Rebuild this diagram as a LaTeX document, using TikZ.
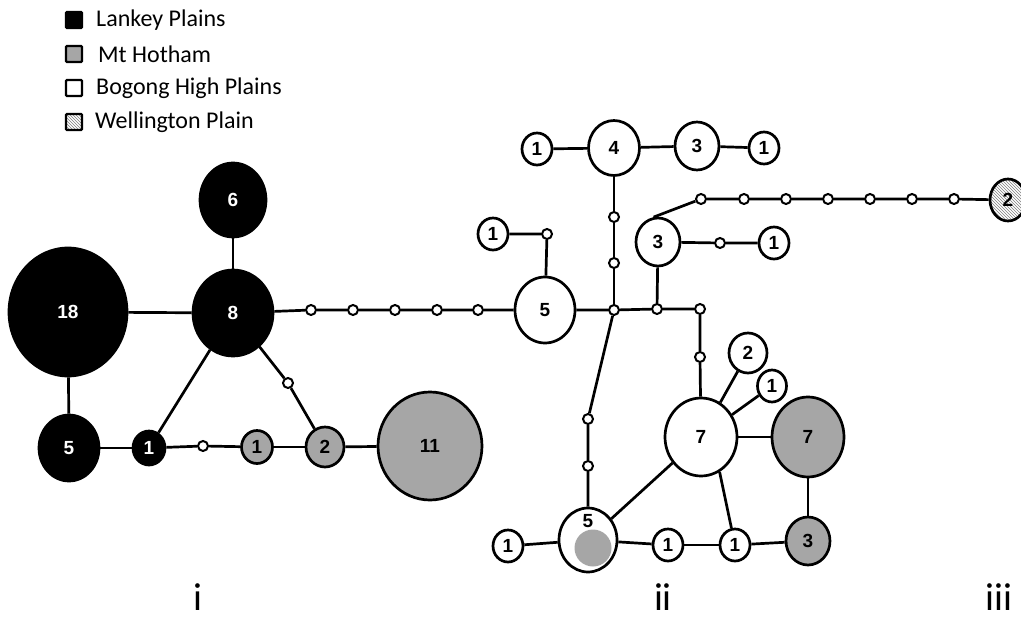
\documentclass[tikz,border=0pt]{standalone}
\usepackage{fontspec}
\setmainfont{Liberation Sans}
\newfontfamily\legfont{Carlito}
\usetikzlibrary{shapes.geometric,patterns}
\definecolor{hapgrey}{RGB}{166,166,166}
\tikzset{
  hap/.style={ellipse, draw=black, line width=2.7pt, inner sep=0pt,
    font=\fontsize{19}{19}\selectfont\bfseries},
  blk/.style={hap, fill=black, text=white},
  gry/.style={hap, fill=hapgrey},
  wht/.style={hap, fill=white},
  htc/.style={hap, preaction={fill=white}, pattern=north west lines, pattern color=gray},
  sz/.style 2 args={minimum width=#1pt, minimum height=#2pt},
  mv/.style={circle, draw=black, fill=white, line width=2pt, minimum size=10pt, inner sep=0pt},
  edg/.style={line width=2.7pt},
  legbox/.style={draw=black, line width=2.4pt, rounded corners=1pt, minimum size=16pt, inner sep=0pt},
  legtxt/.style={anchor=west, inner sep=0pt, font=\legfont\fontsize{24}{24}\selectfont},
  grp/.style={anchor=base, inner sep=0pt, text depth=0pt, font=\legfont\fontsize{39}{39}\selectfont},
}
\begin{document}
\begin{tikzpicture}[x=1pt,y=-1pt]
\useasboundingbox (0,0) rectangle (1021,618);

% legend
\node[legbox, fill=black] (lb1) at (74,20) {};
\node[legbox, fill=hapgrey] (lb2) at (74,54) {};
\node[legbox, fill=white] (lb3) at (74,88) {};
\node[legbox, preaction={fill=white}, pattern=north west lines, pattern color=gray] (lb4) at (74,122) {};
\node[legtxt] (lt1) at (96,20) {Lankey Plains};
\node[legtxt] (lt2) at (98,54) {Mt Hotham};
\node[legtxt] (lt3) at (96,88) {Bogong High Plains};
\node[legtxt] (lt4) at (95,122) {Wellington Plain};

% group labels
\node[grp] (gi) at (198,610) {i};
\node[grp] (gii) at (663,610) {ii};
\node[grp] (giii) at (999,610) {iii};

% --- cluster i
\node[blk, sz={66}{74}] (n6) at (233,200) {6};
\node[blk, sz={118}{128}] (n18) at (68,312) {18};
\node[blk, sz={80}{86}] (n8) at (233,313) {8};
\node[blk, sz={60}{66}] (b5) at (69,448) {5};
\node[blk, sz={32}{34}] (b1) at (149,448) {1};
\node[gry, sz={31}{33}] (g1) at (257,447) {1};
\node[gry, sz={38}{40}] (g2) at (325,447) {2};
\node[gry, sz={104}{108}] (g11) at (430,446) {11};

\node[mv] (s1) at (203,446) {};
\node[mv] (s2) at (288,383) {};
\node[mv] (c1) at (311,310) {};
\node[mv] (c2) at (353,310) {};
\node[mv] (c3) at (395,310) {};
\node[mv] (c4) at (437,310) {};
\node[mv] (c5) at (478,310) {};

% --- cluster ii
\node[wht, sz={60}{66}] (w5) at (545,310) {5};
\node[wht, sz={30}{32}] (w1a) at (493,234) {1};
\node[mv] (sa) at (547,234) {};
\node[wht, sz={51}{55}] (w4) at (614,148) {4};
\node[wht, sz={30}{32}] (w1b) at (537,149) {1};
\node[wht, sz={44}{48}] (w3a) at (697,146) {3};
\node[wht, sz={30}{32}] (w1c) at (764,148) {1};
\node[wht, sz={44}{48}] (w3b) at (658,242) {3};
\node[mv] (sd) at (720,243) {};
\node[wht, sz={30}{32}] (w1d) at (774,243) {1};
\node[mv] (v1) at (614,217) {};
\node[mv] (v2) at (614,263) {};
\node[mv] (jn) at (614,310) {};
\node[mv] (jb) at (657,309) {};
\node[mv] (jc) at (700,309) {};
\node[mv] (jd) at (700,357) {};
\node[mv] (d1) at (588,419) {};
\node[mv] (d2) at (588,466) {};

\node[wht, sz={72}{78}] (w7) at (701,437) {7};
\node[wht, sz={38}{40}] (w2) at (748,353) {2};
\node[wht, sz={29}{32}] (w1e) at (772,386) {1};
\node[gry, sz={72}{80}] (g7) at (808,437) {7};
\node[gry, sz={44}{48}] (g3) at (808,541) {3};
\node[wht, sz={30}{32}] (w1f) at (508,546) {1};
\node[wht, sz={58}{64}] (w5b) at (588,540) {};
\fill[hapgrey] (593,548) circle[radius=18.5];
\node[inner sep=0pt, font=\fontsize{19}{19}\selectfont\bfseries] (w5bl) at (588,521) {5};
\node[wht, sz={30}{32}] (w1g) at (668,545) {1};
\node[wht, sz={30}{32}] (w1h) at (735,545) {1};

% --- cluster iii chain
\node[mv] (h1) at (701,199) {};
\node[mv] (h2) at (744,199) {};
\node[mv] (h3) at (786,199) {};
\node[mv] (h4) at (828,199) {};
\node[mv] (h5) at (870,199) {};
\node[mv] (h6) at (912,199) {};
\node[mv] (h7) at (954,199) {};
\node[htc, sz={36}{42}] (wp2) at (1008,200) {2};

% edges cluster i
\draw[edg] (n6) -- (n8);
\draw[edg] (n18) -- (n8);
\draw[edg] (n18) -- (b5);
\draw[edg] (b5) -- (b1);
\draw[edg] (b1) -- (n8);
\draw[edg] (b1) -- (s1) -- (g1);
\draw[edg] (g1) -- (g2);
\draw[edg] (g2) -- (g11);
\draw[edg] (n8) -- (s2) -- (g2);
\draw[edg] (n8) -- (c1) -- (c2) -- (c3) -- (c4) -- (c5) -- (w5);

% edges cluster ii
\draw[edg] (w1a) -- (sa) -- (w5);
\draw[edg] (w5) -- (jn) -- (jb) -- (jc);
\draw[edg] (w1b) -- (w4);
\draw[edg] (w4) -- (w3a);
\draw[edg] (w3a) -- (w1c);
\draw[edg] (w4) -- (v1) -- (v2) -- (jn);
\draw[edg] (w3b) -- (jb);
\draw[edg] (w3b) -- (sd) -- (w1d);
\draw[edg] (jc) -- (jd) -- (w7);
\draw[edg] (jn) -- (d1) -- (d2) -- (w5b);
\draw[edg] (w7) -- (w2);
\draw[edg] (w7) -- (w1e);
\draw[edg] (w7) -- (g7);
\draw[edg] (w7) -- (w5b);
\draw[edg] (w7.-62) -- (w1h);
\draw[edg] (g7) -- (g3);
\draw[edg] (w1f) -- (w5b);
\draw[edg] (w5b) -- (w1g);
\draw[edg] (w1g) -- (w1h);
\draw[edg] (w1h) -- (g3);

% chain to Wellington Plain
\draw[edg] (w3b.100) -- (h1) -- (h2) -- (h3) -- (h4) -- (h5) -- (h6) -- (h7) -- (wp2);
\end{tikzpicture}
\end{document}
